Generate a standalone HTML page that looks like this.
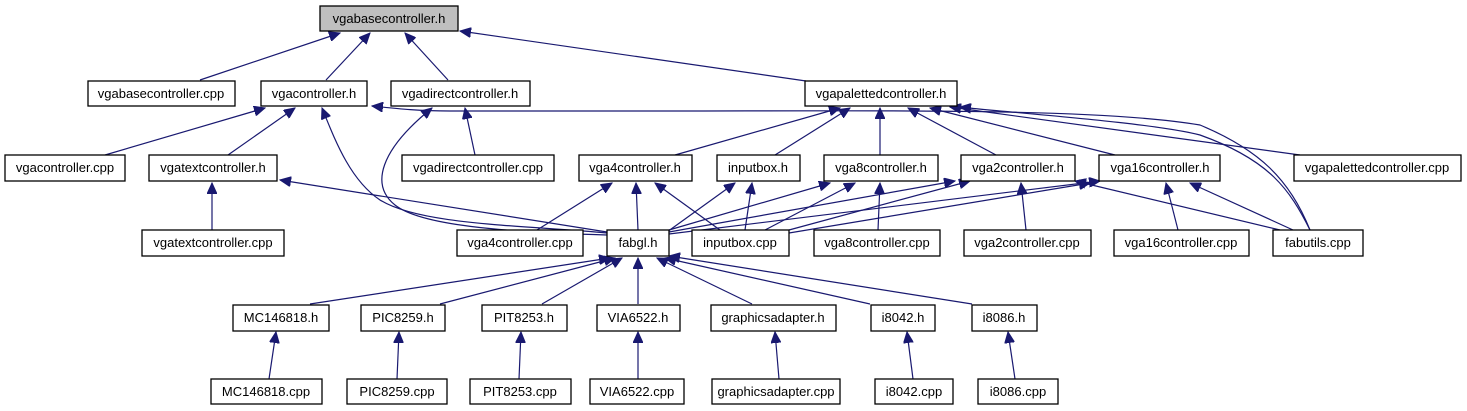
<!DOCTYPE html>
<html><head><meta charset="utf-8"><style>
html,body{margin:0;padding:0;background:#fff;}
svg{display:block;}
text{font-family:"Liberation Sans",Arial,sans-serif;font-size:13px;fill:#000;}
.n{fill:#fff;stroke:#000;stroke-width:1.3;}
.e{stroke:#191970;stroke-width:1.2;fill:none;marker-end:url(#a);}
</style></head><body>
<svg width="1467" height="411" viewBox="0 0 1467 411" xmlns="http://www.w3.org/2000/svg">
<defs><marker id="a" markerUnits="userSpaceOnUse" markerWidth="12" markerHeight="10" refX="11" refY="5" orient="auto"><path d="M0,0 L11,5 L0,10 z" fill="#191970" stroke="#191970"/></marker></defs>
<g>
<path class="e" d="M200,80 L340,33"/>
<path class="e" d="M326,80 L370,33"/>
<path class="e" d="M448,80 L405,33"/>
<path class="e" d="M806,81 L460,31"/>
<path class="e" d="M105,155 L265,108"/>
<path class="e" d="M228,155 L295,108"/>
<path class="e" d="M607,233 C520,225 420,225 380,200 C350,180 335,140 322,108"/>
<path class="e" d="M1310,230 C1290,180 1260,150 1200,125 C1100,108 900,111 650,111 L450,111 C420,111 400,109 372,106"/>
<path class="e" d="M1310,230 C1290,190 1270,160 1200,135 C1150,122 1000,112 960,107"/>
<path class="e" d="M1300,155 L950,107"/>
<path class="e" d="M475,155 L465,108"/>
<path class="e" d="M607,235 C500,232 420,225 395,205 C370,185 380,150 432,108"/>
<path class="e" d="M212,230 L212,183"/>
<path class="e" d="M607,232 L280,180"/>
<path class="e" d="M675,155 L840,108"/>
<path class="e" d="M775,155 L850,108"/>
<path class="e" d="M880,155 L880,108"/>
<path class="e" d="M996,155 L908,108"/>
<path class="e" d="M1115,155 L930,108"/>
<path class="e" d="M537,230 L612,183"/>
<path class="e" d="M638,230 L636,183"/>
<path class="e" d="M720,230 L655,183"/>
<path class="e" d="M667,232 L735,183"/>
<path class="e" d="M745,230 L752,183"/>
<path class="e" d="M669,230 L830,183"/>
<path class="e" d="M765,230 L855,183"/>
<path class="e" d="M878,230 L880,183"/>
<path class="e" d="M669,232 L955,181"/>
<path class="e" d="M789,230 L970,181"/>
<path class="e" d="M1026,230 L1021,183"/>
<path class="e" d="M669,234 L1100,181"/>
<path class="e" d="M789,233 L1090,183"/>
<path class="e" d="M1178,230 L1166,183"/>
<path class="e" d="M1293,230 L1190,183"/>
<path class="e" d="M1280,230 L1075,181"/>
<path class="e" d="M310,304 L610,258"/>
<path class="e" d="M440,304 L615,258"/>
<path class="e" d="M542,304 L622,258"/>
<path class="e" d="M638,304 L638,258"/>
<path class="e" d="M752,304 L657,258"/>
<path class="e" d="M870,304 L665,258"/>
<path class="e" d="M972,304 L669,256"/>
<path class="e" d="M269,379 L276,332"/>
<path class="e" d="M397,379 L399,332"/>
<path class="e" d="M519,379 L521,332"/>
<path class="e" d="M638,379 L638,332"/>
<path class="e" d="M779,379 L775,332"/>
<path class="e" d="M913,379 L907,332"/>
<path class="e" d="M1015,379 L1008,332"/>
</g>
<g>
<rect x="320" y="6" width="138" height="25" style="fill:#bfbfbf;stroke:#000;stroke-width:1.3"/><text x="389" y="23" text-anchor="middle">vgabasecontroller.h</text>
<rect class="n" x="88" y="81" width="147" height="25"/><text x="161" y="98" text-anchor="middle">vgabasecontroller.cpp</text>
<rect class="n" x="261" y="81" width="106" height="25"/><text x="314" y="98" text-anchor="middle">vgacontroller.h</text>
<rect class="n" x="391" y="81" width="139" height="25"/><text x="460" y="98" text-anchor="middle">vgadirectcontroller.h</text>
<rect class="n" x="805" y="81" width="152" height="25"/><text x="881" y="98" text-anchor="middle">vgapalettedcontroller.h</text>
<rect class="n" x="5" y="155" width="120" height="26"/><text x="65" y="172" text-anchor="middle">vgacontroller.cpp</text>
<rect class="n" x="149" y="155" width="128" height="26"/><text x="213" y="172" text-anchor="middle">vgatextcontroller.h</text>
<rect class="n" x="402" y="155" width="152" height="26"/><text x="478" y="172" text-anchor="middle">vgadirectcontroller.cpp</text>
<rect class="n" x="579" y="155" width="113" height="26"/><text x="635" y="172" text-anchor="middle">vga4controller.h</text>
<rect class="n" x="717" y="155" width="83" height="26"/><text x="758" y="172" text-anchor="middle">inputbox.h</text>
<rect class="n" x="824" y="155" width="114" height="26"/><text x="881" y="172" text-anchor="middle">vga8controller.h</text>
<rect class="n" x="961" y="155" width="114" height="26"/><text x="1018" y="172" text-anchor="middle">vga2controller.h</text>
<rect class="n" x="1099" y="155" width="121" height="26"/><text x="1160" y="172" text-anchor="middle">vga16controller.h</text>
<rect class="n" x="1294" y="155" width="167" height="26"/><text x="1377" y="172" text-anchor="middle">vgapalettedcontroller.cpp</text>
<rect class="n" x="142" y="230" width="142" height="26"/><text x="213" y="247" text-anchor="middle">vgatextcontroller.cpp</text>
<rect class="n" x="457" y="230" width="126" height="26"/><text x="520" y="247" text-anchor="middle">vga4controller.cpp</text>
<rect class="n" x="607" y="230" width="62" height="26"/><text x="638" y="247" text-anchor="middle">fabgl.h</text>
<rect class="n" x="692" y="230" width="97" height="26"/><text x="740" y="247" text-anchor="middle">inputbox.cpp</text>
<rect class="n" x="814" y="230" width="126" height="26"/><text x="877" y="247" text-anchor="middle">vga8controller.cpp</text>
<rect class="n" x="964" y="230" width="127" height="26"/><text x="1027" y="247" text-anchor="middle">vga2controller.cpp</text>
<rect class="n" x="1114" y="230" width="135" height="26"/><text x="1181" y="247" text-anchor="middle">vga16controller.cpp</text>
<rect class="n" x="1273" y="230" width="90" height="26"/><text x="1318" y="247" text-anchor="middle">fabutils.cpp</text>
<rect class="n" x="233" y="305" width="96" height="26"/><text x="281" y="322" text-anchor="middle">MC146818.h</text>
<rect class="n" x="361" y="305" width="84" height="26"/><text x="403" y="322" text-anchor="middle">PIC8259.h</text>
<rect class="n" x="482" y="305" width="85" height="26"/><text x="524" y="322" text-anchor="middle">PIT8253.h</text>
<rect class="n" x="597" y="305" width="83" height="26"/><text x="638" y="322" text-anchor="middle">VIA6522.h</text>
<rect class="n" x="711" y="305" width="125" height="26"/><text x="773" y="322" text-anchor="middle">graphicsadapter.h</text>
<rect class="n" x="871" y="305" width="64" height="26"/><text x="903" y="322" text-anchor="middle">i8042.h</text>
<rect class="n" x="972" y="305" width="65" height="26"/><text x="1004" y="322" text-anchor="middle">i8086.h</text>
<rect class="n" x="211" y="379" width="111" height="25"/><text x="266" y="396" text-anchor="middle">MC146818.cpp</text>
<rect class="n" x="347" y="379" width="100" height="25"/><text x="397" y="396" text-anchor="middle">PIC8259.cpp</text>
<rect class="n" x="470" y="379" width="101" height="25"/><text x="520" y="396" text-anchor="middle">PIT8253.cpp</text>
<rect class="n" x="590" y="379" width="94" height="25"/><text x="637" y="396" text-anchor="middle">VIA6522.cpp</text>
<rect class="n" x="712" y="379" width="128" height="25"/><text x="776" y="396" text-anchor="middle">graphicsadapter.cpp</text>
<rect class="n" x="875" y="379" width="78" height="25"/><text x="914" y="396" text-anchor="middle">i8042.cpp</text>
<rect class="n" x="978" y="379" width="80" height="25"/><text x="1018" y="396" text-anchor="middle">i8086.cpp</text>
</g>
</svg>
</body></html>
